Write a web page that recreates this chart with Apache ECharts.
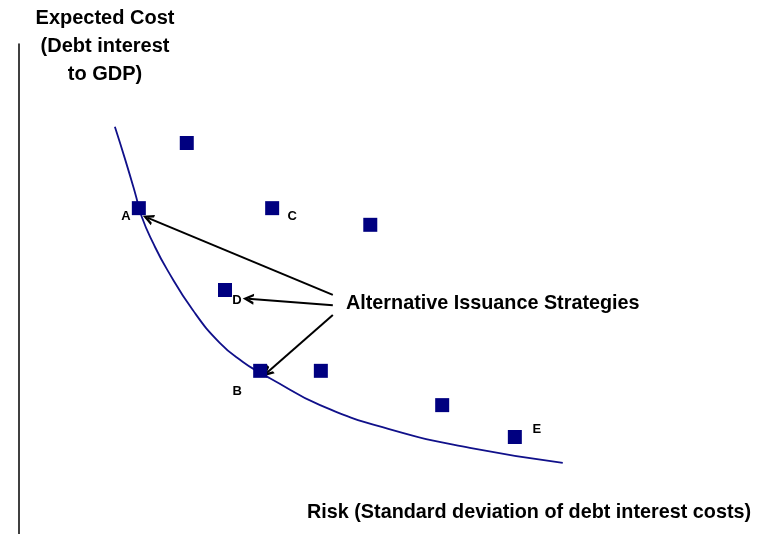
<!DOCTYPE html>
<html>
<head>
<meta charset="utf-8">
<script src="https://cdn.jsdelivr.net/npm/echarts@6/dist/echarts.min.js"></script>
<style>html,body{margin:0;padding:0;background:#fff}#c{width:768px;height:534px}</style>
</head>
<body>
<div id="c"></div>
<script>
// Strategy points (risk, expected cost)
const strategyNames = ['', 'A', 'C', '', 'D', 'B', '', '', 'E'];
const strategyRisk  = [22.4, 16.0, 33.8, 46.9, 27.5, 32.2, 40.3, 56.5, 66.2];
const strategyCost  = [79.8, 66.5, 66.5, 63.1, 49.8, 33.3, 33.3, 26.3, 19.8];
// Efficient frontier curve
const frontierRisk = [12.8, 14.2, 15.5, 16.4, 17.9, 19.8, 23.2, 26.8, 29.9, 32.2, 33.5, 40.2, 49.9, 60.2, 72.6];
const frontierCost = [83.1, 76.3, 69.6, 64.7, 59.4, 53.9, 45.7, 39.0, 35.1, 32.9, 31.8, 26.3, 21.2, 17.6, 14.5];
// Annotation arrows
const arrowFromRisk = [41.9, 41.9, 41.9];
const arrowFromCost = [48.8, 46.7, 44.7];
const arrowToRisk   = [17.2, 30.6, 33.1];
const arrowToCost   = [64.5, 48.0, 32.9];

const labelOffsets = { A: [-13, 8], C: [20, 8], D: [12, 10], B: [-23, 21], E: [22, -8] };
const font = '"Liberation Sans", Arial, Helvetica, sans-serif';

const chart = echarts.init(document.getElementById('c'));
chart.setOption({
  animation: false,
  grid: { left: 19, right: 0, top: 44, bottom: 0 },
  xAxis: { type: 'value', min: 0, max: 100, axisLine: { show: false }, axisTick: { show: false }, axisLabel: { show: false }, splitLine: { show: false } },
  yAxis: { type: 'value', min: 0, max: 100, axisLine: { show: true, lineStyle: { color: '#000', width: 1.5 } }, axisTick: { show: false }, axisLabel: { show: false }, splitLine: { show: false } },
  series: [
    {
      type: 'line', smooth: 0.5, symbol: 'none',
      data: frontierRisk.map((x, i) => [x, frontierCost[i]]),
      lineStyle: { color: '#10108a', width: 1.8 }, z: 2
    },
    {
      type: 'lines', coordinateSystem: 'cartesian2d',
      symbol: ['none', 'path://M0,10 L5,0 L10,10 L7.6,10 L5,4.6 L2.4,10 Z'], symbolSize: [12, 11],
      lineStyle: { color: '#000', width: 2, opacity: 1 },
      itemStyle: { color: '#000' },
      data: arrowFromRisk.map((x, i) => ({ coords: [[x, arrowFromCost[i]], [arrowToRisk[i], arrowToCost[i]]] })),
      z: 3
    },
    {
      type: 'scatter', symbol: 'rect', symbolSize: 14,
      itemStyle: { color: '#000080', opacity: 1 },
      data: strategyRisk.map((x, i) => {
        const n = strategyNames[i];
        const item = { value: [x, strategyCost[i]], name: n };
        if (n) {
          item.label = { show: true, formatter: n, position: 'inside', offset: labelOffsets[n], color: '#000', fontSize: 13, fontWeight: 'bold', fontFamily: font };
        }
        return item;
      }),
      z: 4
    }
  ],
  graphic: [
    { type: 'text', style: { text: 'Expected Cost\n(Debt interest\nto GDP)', x: 105, y: 4, align: 'center', font: 'bold 20px ' + font, lineHeight: 28, fill: '#000' } },
    { type: 'text', style: { text: 'Risk (Standard deviation of debt interest costs)', x: 307, y: 513, verticalAlign: 'middle', font: 'bold 19.8px ' + font, fill: '#000' } },
    { type: 'text', style: { text: 'Alternative Issuance Strategies', x: 346, y: 304, verticalAlign: 'middle', font: 'bold 19.8px ' + font, fill: '#000' } }
  ]
});
</script>
</body>
</html>
